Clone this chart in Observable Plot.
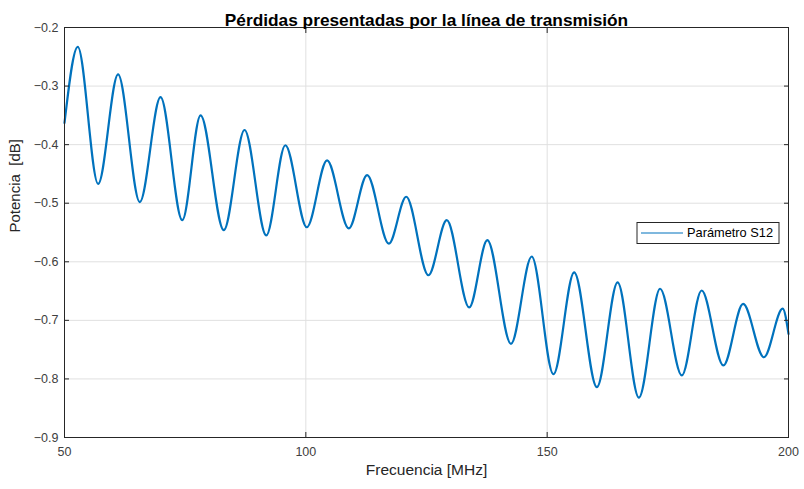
<!DOCTYPE html>
<html>
<head>
<meta charset="utf-8">
<script src="https://cdn.jsdelivr.net/npm/d3@7"></script>
<script src="https://cdn.jsdelivr.net/npm/@observablehq/plot@0.6"></script>
<style>
  html, body { margin: 0; padding: 0; background: #fff; }
  svg { display: block; }
</style>
</head>
<body>
<div id="chart"></div>
<script>
const frecuencia = [50, 52.75, 56.97, 61.1, 65.6, 69.9, 74.4, 78.2, 83.0, 87.3, 91.8, 95.75, 100.2, 104.4, 108.9, 112.7, 117.2, 120.8, 125.4, 129.2, 133.85, 137.6, 142.5, 146.8, 151.3, 155.6, 160.3, 164.6, 169.0, 173.4, 177.9, 182.0, 186.5, 190.6, 194.9, 198.8, 200];
const potencia = [-0.363, -0.233, -0.467, -0.28, -0.498, -0.319, -0.529, -0.35, -0.546, -0.375, -0.555, -0.401, -0.541, -0.427, -0.543, -0.452, -0.569, -0.489, -0.623, -0.529, -0.678, -0.563, -0.740, -0.591, -0.792, -0.618, -0.814, -0.635, -0.832, -0.646, -0.794, -0.649, -0.777, -0.672, -0.763, -0.680, -0.723];
const xTicks = [50, 100, 150, 200];
const yTicks = [-0.9, -0.8, -0.7, -0.6, -0.5, -0.4, -0.3, -0.2];
const titulo = "Pérdidas presentadas por la línea de transmisión";
const xLabel = "Frecuencia [MHz]";
const yLabel = "Potencia  [dB]";
const serieNombre = "Parámetro S12";

const data = frecuencia.map((f, i) => ({f, p: potencia[i]}));
const lineColor = "#0072BD";
const font = "'Liberation Sans', Arial, Helvetica, sans-serif";

const chart = Plot.plot({
  width: 804,
  height: 489,
  marginLeft: 64,
  marginRight: 16,
  marginTop: 27,
  marginBottom: 52,
  style: {fontFamily: font, fontSize: "12px", background: "#fff"},
  x: {domain: [50, 200], ticks: xTicks},
  y: {domain: [-0.9, -0.2], ticks: yTicks},
  marks: [
    Plot.gridX(xTicks, {stroke: "#e0e0e0", strokeOpacity: 1}),
    Plot.gridY(yTicks, {stroke: "#e0e0e0", strokeOpacity: 1}),
    Plot.line(data, {x: "f", y: "p", stroke: lineColor, strokeWidth: 2.2, curve: "monotone-x"}),
    Plot.frame({stroke: "#262626", strokeWidth: 1}),
    Plot.axisX(xTicks, {anchor: "bottom", tickSize: 0, tickPadding: 10, fill: "#404040", fontSize: 12.5, label: null}),
    Plot.axisY(yTicks, {anchor: "left", tickSize: 0, tickPadding: 6, fill: "#404040", fontSize: 12.5, label: null, tickFormat: d => d.toFixed(1).replace("-", "\u2212")}),
    Plot.axisX(xTicks, {anchor: "bottom", tickSize: -5, tickFormat: () => "", label: null, stroke: "#262626"}),
    Plot.axisX(xTicks, {anchor: "top", tickSize: -5, tickFormat: () => "", label: null, stroke: "#262626"}),
    Plot.axisY(yTicks, {anchor: "left", tickSize: -5, tickFormat: () => "", label: null, stroke: "#262626"}),
    Plot.axisY(yTicks, {anchor: "right", tickSize: -5, tickFormat: () => "", label: null, stroke: "#262626"}),
    Plot.text([titulo], {frameAnchor: "top", dy: -14, fontWeight: "bold", fontSize: 17.3, fill: "#000"}),
    Plot.text([xLabel], {frameAnchor: "bottom", dy: 37, fontSize: 15.5, fill: "#262626"}),
    Plot.text([yLabel], {frameAnchor: "left", dx: -49, rotate: -90, fontSize: 15, fill: "#262626"})
  ]
});

document.getElementById("chart").appendChild(chart);

// Legend box (MATLAB style), placed inside the plot area at the right
const svg = d3.select(chart);
const g = svg.append("g").attr("font-family", font).attr("text-anchor", "start");
const lx = 637, ly = 222.5, lw = 142, lh = 21;
g.append("rect").attr("x", lx).attr("y", ly).attr("width", lw).attr("height", lh)
  .attr("fill", "#fff").attr("stroke", "#262626").attr("stroke-width", 1);
g.append("line").attr("x1", lx + 4).attr("x2", lx + 46).attr("y1", ly + lh / 2).attr("y2", ly + lh / 2)
  .attr("stroke", lineColor).attr("stroke-width", 1.2);
g.append("text").attr("x", lx + 50).attr("y", ly + lh / 2).attr("dy", "0.35em")
  .attr("text-anchor", "start").attr("font-size", 12.8).attr("fill", "#000").text(serieNombre);
</script>
</body>
</html>
